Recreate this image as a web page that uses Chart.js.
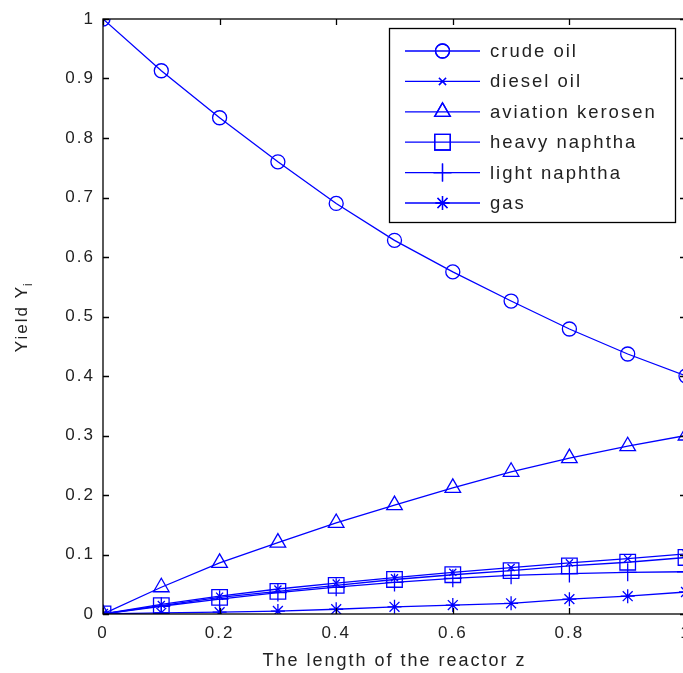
<!DOCTYPE html>
<html>
<head>
<meta charset="utf-8">
<script src="https://cdn.jsdelivr.net/npm/chart.js@4/dist/chart.umd.min.js"></script>
<style>
  html, body { margin: 0; padding: 0; background: #fff; overflow: hidden; }
  #wrap { width: 688px; height: 673px; }
</style>
</head>
<body>
<div id="wrap"><canvas id="yield-chart" width="688" height="673"></canvas></div>
<script>
// reactor length z
var zValues = [0, 0.1, 0.2, 0.3, 0.4, 0.5, 0.6, 0.7, 0.8, 0.9, 1.0]

var crudeOil   = [1.0, 0.913, 0.834, 0.760, 0.690, 0.628, 0.575, 0.526, 0.479, 0.437, 0.400]
var dieselOil  = [0, 0.016, 0.030, 0.042, 0.052, 0.061, 0.070, 0.078, 0.086, 0.093, 0.101]
var kerosene   = [0, 0.045, 0.086, 0.120, 0.153, 0.183, 0.212, 0.239, 0.262, 0.282, 0.300]
var heavyNaph  = [0, 0.014, 0.028, 0.038, 0.048, 0.058, 0.066, 0.073, 0.081, 0.087, 0.095]
var lightNaph  = [0, 0.013, 0.025, 0.036, 0.045, 0.053, 0.060, 0.065, 0.068, 0.070, 0.071]
var gas        = [0, 0.002, 0.003, 0.005, 0.008, 0.012, 0.015, 0.018, 0.025, 0.030, 0.037]

var seriesNames = ["crude oil", "diesel oil", "aviation kerosen", "heavy naphtha", "light naphtha", "gas"]
var seriesData  = [crudeOil, dieselOil, kerosene, heavyNaph, lightNaph, gas]
var markerStyle = ["circle", "crossRot", "triangle", "rect", "cross", "star"]
var markerSize  = [7, 5, 9, 11, 9, 7]

var xTicks = [0, 0.2, 0.4, 0.6, 0.8, 1]
var yTicks = [0, 0.1, 0.2, 0.3, 0.4, 0.5, 0.6, 0.7, 0.8, 0.9, 1]

var BLUE = "#0000ff"
var FONT = "'Liberation Sans', Arial, sans-serif"

function toPoints(arr){
  return arr.map(function(v, i){ return {x: zValues[i], y: v} })
}

var datasets = seriesNames.map(function(name, i){
  return {
    label: name,
    data: toPoints(seriesData[i]),
    borderColor: BLUE,
    borderWidth: 1.3,
    backgroundColor: "rgba(0,0,0,0)",
    pointStyle: markerStyle[i],
    pointRadius: markerSize[i],
    pointBorderColor: BLUE,
    pointBorderWidth: 1.3,
    pointBackgroundColor: "rgba(0,0,0,0)",
    fill: false,
    tension: 0
  }
})

// MATLAB style box, inward ticks, titles and legend
var matlabLook = {
  id: "matlabLook",
  beforeDraw: function(chart){
    var ctx = chart.ctx
    ctx.save()
    ctx.fillStyle = "#fff"
    ctx.fillRect(0, 0, chart.width, chart.height)
    ctx.restore()
    ctx.letterSpacing = "2px"
  },
  afterDraw: function(chart){
    var ctx = chart.ctx
    var a = chart.chartArea
    var xs = chart.scales.x, ys = chart.scales.y
    var tl = 6
    ctx.save()
    ctx.strokeStyle = "#000"
    ctx.lineWidth = 1.3
    ctx.strokeRect(a.left, a.top, a.right - a.left, a.bottom - a.top)
    ctx.beginPath()
    xTicks.forEach(function(v){
      var px = Math.round(xs.getPixelForValue(v)) + 0.5
      ctx.moveTo(px, a.bottom); ctx.lineTo(px, a.bottom - tl)
      ctx.moveTo(px, a.top); ctx.lineTo(px, a.top + tl)
    })
    yTicks.forEach(function(v){
      var py = Math.round(ys.getPixelForValue(v)) + 0.5
      ctx.moveTo(a.left, py); ctx.lineTo(a.left + tl, py)
      ctx.moveTo(a.right, py); ctx.lineTo(a.right - tl, py)
    })
    ctx.stroke()

    // axis titles
    ctx.fillStyle = "#222"
    ctx.letterSpacing = "2px"
    ctx.font = "18px " + FONT
    ctx.textAlign = "center"
    ctx.textBaseline = "alphabetic"
    ctx.fillText("The length of the reactor z", (a.left + a.right) / 2, 666)

    ctx.save()
    ctx.translate(27, (a.top + a.bottom) / 2)
    ctx.rotate(-Math.PI / 2)
    ctx.font = "17px " + FONT
    ctx.textAlign = "left"
    var t = "Yield Y"
    var w = ctx.measureText(t).width
    var w2 = ctx.measureText("i").width * 0.7
    var sx = -(w + w2) / 2
    ctx.fillText(t, sx, 0)
    ctx.font = "12px " + FONT
    ctx.fillText("i", sx + w - 1, 5)
    ctx.restore()

    // legend
    var lx = 389.5, ly = 28.5, lw = 286, lh = 194
    ctx.fillStyle = "#fff"
    ctx.fillRect(lx, ly, lw, lh)
    ctx.strokeStyle = "#000"
    ctx.lineWidth = 1.3
    ctx.strokeRect(lx, ly, lw, lh)
    ctx.font = "18.5px " + FONT
    ctx.textAlign = "left"
    ctx.textBaseline = "middle"
    chart.data.datasets.forEach(function(ds, i){
      var ry = 51 + i * 30.4
      ctx.strokeStyle = BLUE
      ctx.lineWidth = 1.3
      ctx.beginPath()
      ctx.moveTo(405, ry); ctx.lineTo(480, ry)
      ctx.stroke()
      ctx.fillStyle = "rgba(0,0,0,0)"
      Chart.helpers.drawPoint(ctx, {
        pointStyle: ds.pointStyle,
        radius: ds.pointRadius,
        rotation: 0,
        borderWidth: 1.3
      }, 442.5, ry)
      ctx.stroke()
      ctx.fillStyle = "#222"
      ctx.fillText(ds.label, 490, ry + 1)
    })
    ctx.restore()
  }
}

function plainLabel(v){ return String(v) }

new Chart(document.getElementById("yield-chart"), {
  type: "line",
  data: { datasets: datasets },
  options: {
    responsive: false,
    animation: false,
    layout: { padding: { top: 19, right: 2, left: 0, bottom: 0 }, autoPadding: false },
    plugins: {
      legend: { display: false },
      tooltip: { enabled: false }
    },
    scales: {
      x: {
        type: "linear",
        min: 0,
        max: 1,
        afterFit: function(s){ s.height = 59; s.paddingLeft = 0; s.paddingRight = 0 },
        afterBuildTicks: function(s){ s.ticks = xTicks.map(function(v){ return {value: v} }) },
        grid: { display: false, drawTicks: false },
        border: { display: false },
        ticks: { color: "#222", padding: 9, font: { size: 17, family: FONT }, callback: plainLabel }
      },
      y: {
        type: "linear",
        min: 0,
        max: 1,
        afterFit: function(s){ s.width = 103; s.paddingTop = 0; s.paddingBottom = 0 },
        afterBuildTicks: function(s){ s.ticks = yTicks.map(function(v){ return {value: v} }) },
        grid: { display: false, drawTicks: false },
        border: { display: false },
        ticks: { color: "#222", padding: 8, font: { size: 17, family: FONT }, callback: plainLabel }
      }
    }
  },
  plugins: [matlabLook]
});
</script>
</body>
</html>
